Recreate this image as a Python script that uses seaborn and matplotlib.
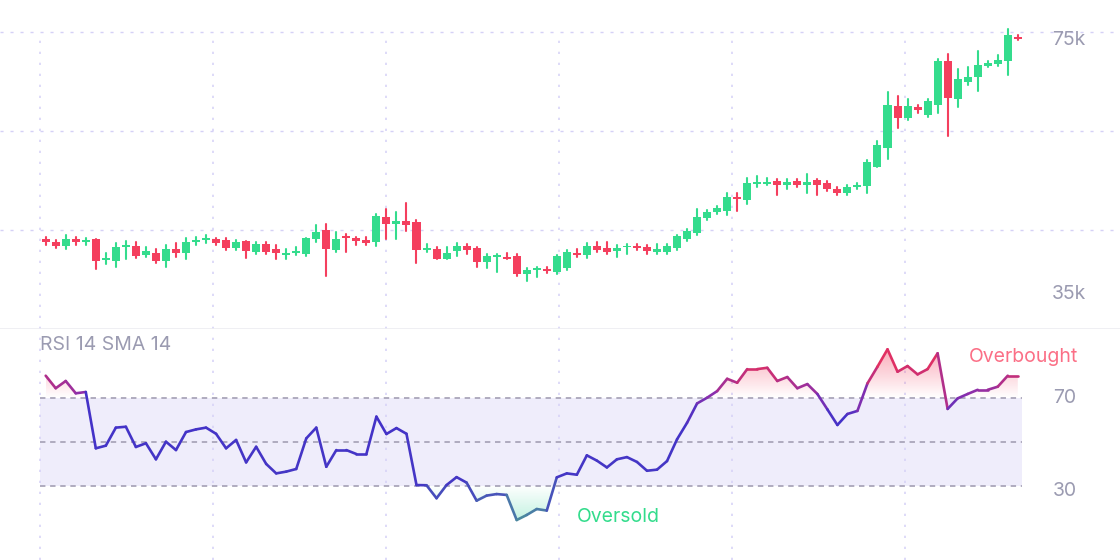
import numpy as np
import pandas as pd
import matplotlib
matplotlib.use('Agg')
import matplotlib.pyplot as plt
import seaborn as sns
from matplotlib.collections import LineCollection
from matplotlib.colors import LinearSegmentedColormap, Normalize, to_rgb
from matplotlib.path import Path

#Daily candles, prices in thousands
opens = [47.15, 46.66, 46.12, 47.15, 46.71, 47.11, 44.24, 44.19, 46.03, 46.17,
         44.96, 45.23, 44.19, 45.76, 45.18, 46.66, 46.98, 47.15, 46.93, 45.85,
         46.84, 45.41, 46.44, 45.76, 45.00, 45.23, 45.09, 47.06, 48.37, 45.63,
         47.51, 47.24, 46.93, 46.75, 50.11, 49.13, 49.49, 49.35, 45.67, 45.76,
         44.42, 45.45, 46.21, 45.85, 44.01, 44.64, 44.73, 44.87, 42.36, 42.89,
         43.12, 42.71, 43.21, 45.27, 44.91, 46.17, 45.90, 45.54, 45.99, 46.21,
         45.99, 45.41, 45.41, 45.90, 47.15, 47.92, 49.98, 50.74, 50.92, 52.76,
         52.31, 54.55, 54.55, 54.96, 54.33, 54.96, 54.33, 55.00, 54.69, 53.88,
         53.34, 54.15, 54.29, 56.84, 59.35, 64.96, 63.34, 64.91, 63.79, 65.14,
         71.10, 65.99, 68.19, 68.95, 70.43, 70.61, 71.06, 74.33]
closes = [46.66, 46.17, 47.11, 46.66, 46.93, 44.19, 44.51, 46.03, 46.26, 44.87,
          45.50, 44.19, 45.76, 45.18, 46.75, 46.93, 47.24, 46.62, 45.85, 46.66,
          45.50, 46.44, 45.41, 45.27, 45.27, 45.50, 47.24, 48.05, 45.76, 47.15,
          47.24, 46.89, 46.62, 50.20, 49.08, 49.58, 48.95, 45.58, 45.94, 44.42,
          45.18, 46.21, 45.67, 43.97, 44.82, 44.91, 44.46, 42.45, 42.89, 43.16,
          42.80, 44.87, 45.32, 44.96, 46.21, 45.63, 45.36, 45.94, 46.21, 45.90,
          45.45, 45.72, 46.21, 47.51, 48.14, 50.02, 50.79, 51.24, 52.76, 52.45,
          54.69, 54.82, 54.82, 54.42, 54.82, 54.33, 54.82, 54.42, 53.88, 53.34,
          54.11, 54.42, 57.43, 59.71, 65.18, 63.43, 64.96, 64.42, 65.72, 71.10,
          66.08, 68.59, 68.95, 70.47, 70.74, 71.15, 74.51, 74.02]
highs = [47.38, 46.98, 47.69, 47.42, 47.20, 47.15, 45.27, 46.57, 46.80, 46.75,
         45.99, 45.81, 46.30, 46.53, 47.29, 47.38, 47.65, 47.20, 47.20, 46.98,
         46.90, 46.71, 46.71, 46.26, 45.76, 45.99, 47.30, 48.95, 49.17, 48.01,
         47.83, 47.42, 47.33, 50.47, 51.19, 50.70, 51.91, 49.62, 46.44, 46.03,
         45.99, 46.53, 46.48, 46.08, 45.09, 45.09, 45.23, 45.09, 43.16, 43.39,
         43.39, 44.92, 45.63, 45.81, 46.53, 46.71, 46.71, 46.26, 46.48, 46.48,
         46.26, 46.44, 46.48, 47.60, 48.45, 51.15, 51.01, 51.51, 53.35, 53.30,
         55.27, 55.59, 55.32, 55.18, 55.18, 55.18, 55.90, 55.18, 54.91, 54.15,
         54.37, 54.64, 57.70, 60.25, 66.84, 66.35, 65.94, 65.18, 65.99, 71.33,
         72.00, 69.98, 70.30, 72.36, 71.01, 71.91, 75.32, 74.56]
lows = [46.35, 45.85, 45.81, 46.35, 46.35, 43.12, 43.70, 43.39, 44.42, 44.60,
        44.69, 43.92, 43.39, 44.64, 44.37, 46.35, 46.62, 46.35, 45.63, 45.63,
        44.60, 45.14, 45.14, 44.37, 44.42, 44.91, 44.82, 46.75, 42.18, 45.32,
        45.32, 46.35, 46.35, 46.21, 47.15, 47.15, 48.14, 43.92, 45.41, 44.38,
        44.38, 44.87, 45.14, 43.39, 43.21, 42.71, 44.42, 42.18, 41.50, 42.04,
        42.58, 42.45, 42.89, 44.69, 44.60, 45.36, 45.09, 44.64, 45.14, 45.67,
        45.14, 45.09, 45.14, 45.63, 46.84, 47.65, 49.71, 50.43, 50.34, 50.83,
        51.77, 54.06, 54.33, 53.03, 53.79, 54.06, 53.25, 53.03, 53.57, 53.07,
        53.07, 53.83, 53.34, 56.80, 57.92, 62.04, 63.07, 64.11, 63.52, 64.02,
        60.92, 64.87, 67.87, 67.07, 70.21, 70.34, 69.13, 73.88]

#RSI 14 values, one per candle
rsi = [80.0, 74.3, 77.6, 72.0, 72.6, 47.0, 48.2, 56.4, 56.8, 47.6,
       49.3, 42.0, 50.0, 46.2, 54.4, 55.6, 56.4, 53.6, 47.0, 50.8,
       40.6, 47.7, 39.9, 35.6, 36.4, 37.6, 51.5, 56.4, 38.6, 46.2,
       46.2, 44.4, 44.4, 61.4, 53.5, 56.2, 53.6, 30.3, 30.2, 24.3,
       30.3, 33.9, 31.4, 23.2, 25.5, 26.2, 25.8, 14.4, 16.7, 19.4,
       18.7, 33.8, 35.6, 35.0, 43.8, 41.4, 38.3, 42.0, 43.0, 40.8,
       36.8, 37.3, 41.2, 51.1, 58.6, 67.4, 70.0, 73.0, 78.6, 76.8,
       83.0, 83.0, 83.6, 77.6, 79.4, 74.3, 76.2, 71.7, 64.7, 57.6,
       62.6, 64.0, 76.5, 84.1, 92.0, 81.8, 84.4, 80.6, 83.0, 90.2,
       64.9, 69.7, 71.7, 73.6, 73.6, 75.0, 80.0, 80.0]

price_gridlines = [35000, 48333, 61667, 75000]
price_labels = ['75k', '35k']
rsi_levels = [30, 50, 70]
rsi_labels = ['70', '30']

#Colours
green = '#34dc8d'
red = '#f43f5e'
grid_col = '#d5d1f6'
label_col = '#9b9bb1'

sns.set_theme(style='white')
plt.rcParams['font.family'] = ['Inter', 'DejaVu Sans']

df = pd.DataFrame({'open': opens, 'high': highs, 'low': lows, 'close': closes, 'rsi': rsi})
df[['open', 'high', 'low', 'close']] *= 1000
df['i'] = np.arange(len(df))
df['dir'] = np.where(df['close'] >= df['open'], 'up', 'down')

fig = plt.figure(figsize=(11.2, 5.6), dpi=100)
ax = fig.add_axes([0, 0.4125, 1, 0.5875])
ax2 = fig.add_axes([0, 0, 1, 0.4125])

xlim = (-4.56, 107.2)
plot_left, plot_right = -0.57, 97.46
grid_x = plot_left + 17.27 * np.arange(6)

#Price panel
for v in price_gridlines[1:]:
    ax.axhline(v, color=grid_col, lw=1, ls=(0, (2.2, 5)), zorder=0)
ax.vlines(grid_x, price_gridlines[0], price_gridlines[-1], color=grid_col, lw=1.1,
          linestyles=(0, (1.5, 5.7)), zorder=0)
ax.axhline(price_gridlines[0], color='#ececf1', lw=1.2, zorder=0)

#Wicks: two rows per candle (low, high) drawn per unit
wicks = pd.concat([df[['i', 'low', 'dir']].rename(columns={'low': 'price'}),
                   df[['i', 'high', 'dir']].rename(columns={'high': 'price'})]).sort_values('i', kind='stable')
sns.lineplot(data=wicks, x='i', y='price', units='i', estimator=None, hue='dir',
             palette={'up': green, 'down': red}, lw=1.5, legend=False, sort=False, ax=ax, zorder=2)

body_bottom = df[['open', 'close']].min(axis=1)
body_height = (df['close'] - df['open']).abs().clip(lower=200)
ax.bar(df['i'], body_height, bottom=body_bottom, width=0.8,
       color=df['dir'].map({'up': green, 'down': red}), lw=0, zorder=3)
ax.set_xlim(*xlim)
ax.set_ylim(35000, 79265)
ax.set_axis_off()

#RSI panel
ax2.fill_between([plot_left, plot_right], rsi_levels[0], rsi_levels[-1], color='#efedfb', lw=0, zorder=0)
for x in grid_x:
    ax2.axvline(x, color=grid_col, lw=1.1, ls=(0, (1.5, 5.7)), zorder=0.5)
ax2.hlines(rsi_levels, plot_left, plot_right, colors='#aaa6ba', lw=1.3,
           linestyles=(0, (3, 2.6)), zorder=1)

x = df['i'].to_numpy(dtype=float)
y = df['rsi'].to_numpy()


def gradient_fill(ax, level, top, color, amax, above=True):
    where = y >= level if above else y <= level
    poly = ax.fill_between(x, y, level, where=where, interpolate=True, facecolor='none', edgecolor='none')
    path = Path.make_compound_path(*poly.get_paths())
    img = np.zeros((256, 1, 4))
    img[..., :3] = to_rgb(color)
    img[:, 0, 3] = np.linspace(0, amax, 256)
    lo, hi = level, top
    if not above:
        img = img[::-1]
        lo, hi = top, level
    im = ax.imshow(img, extent=[x.min(), x.max(), lo, hi], origin='lower', aspect='auto',
                   interpolation='bilinear', zorder=1.5)
    im.set_clip_path(path, transform=ax.transData)


gradient_fill(ax2, 70, 93, '#f43f5e', 0.45, above=True)
gradient_fill(ax2, 30, 13, '#34d399', 0.32, above=False)

cmap = LinearSegmentedColormap.from_list('rsi', [
    (0.0, '#3fae86'), (0.14, '#4b8d9b'), (0.22, '#4a6fae'), (0.30, '#4538c4'),
    (0.60, '#4432c8'), (0.72, '#8a2fac'), (0.82, '#cf2f70'), (0.92, '#ee3159'), (1.0, '#f0325a')])
pts = np.column_stack([x, y])
segs = np.stack([pts[:-1], pts[1:]], axis=1)
mid = (y[:-1] + y[1:]) / 2
lc = LineCollection(segs, colors=cmap(Normalize(0, 100)(mid)), lw=1.9,
                    capstyle='round', joinstyle='round', zorder=3)
ax2.add_collection(lc)
ax2.set_xlim(*xlim)
ax2.set_ylim(-3.77, 101.23)
ax2.set_axis_off()

#Texts
fs = 14
fig.text(1052 / 1120, 1 - 40 / 560, price_labels[0], color=label_col, fontsize=fs, va='center')
fig.text(1052 / 1120, 1 - 294 / 560, price_labels[1], color=label_col, fontsize=fs, va='center')
fig.text(1053 / 1120, 1 - 398 / 560, rsi_labels[0], color=label_col, fontsize=fs, va='center')
fig.text(1053 / 1120, 1 - 491 / 560, rsi_labels[1], color=label_col, fontsize=fs, va='center')
fig.text(40 / 1120, 1 - 345 / 560, 'RSI 14 SMA 14', color=label_col, fontsize=fs, va='center')
fig.text(969 / 1120, 1 - 357 / 560, 'Overbought', color='#fb6f86', fontsize=fs, va='center')
fig.text(577 / 1120, 1 - 517 / 560, 'Oversold', color='#33dc8c', fontsize=fs, va='center')

fig.savefig('out.png', dpi=100)
